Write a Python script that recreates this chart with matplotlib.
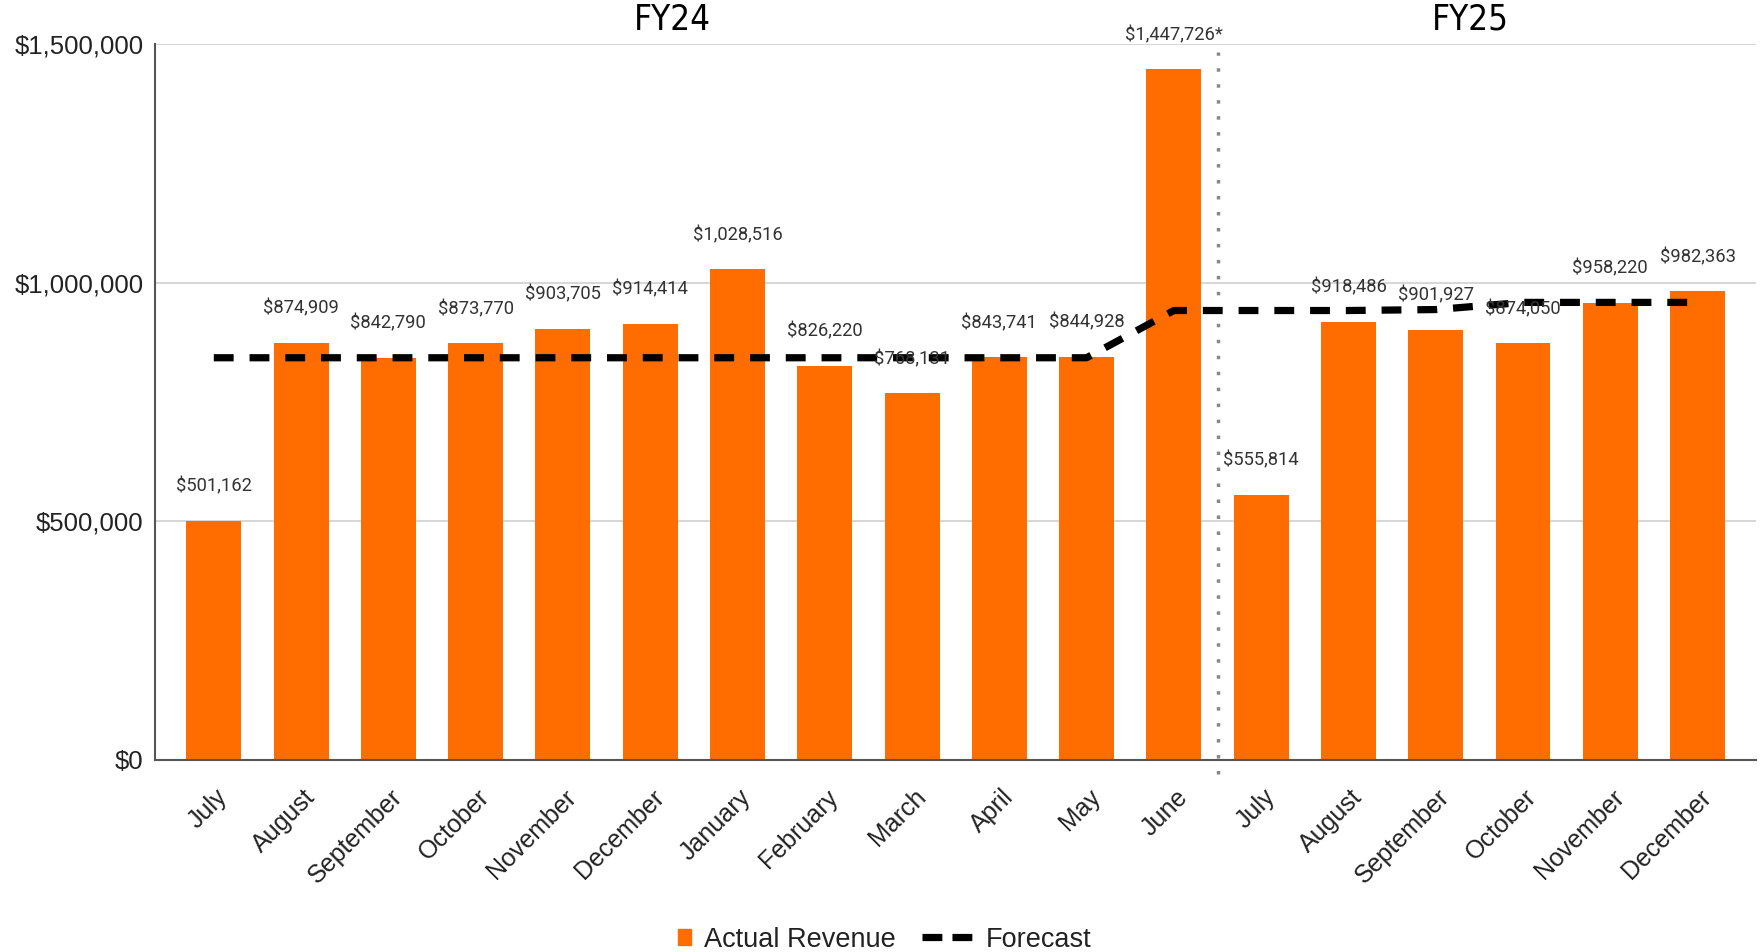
import numpy as np
import matplotlib.pyplot as plt
import matplotlib.transforms as mtransforms
from matplotlib.lines import Line2D
from matplotlib.patches import Patch, Rectangle
from matplotlib.legend_handler import HandlerPatch

# ---------------------

months = ['July', 'August', 'September', 'October', 'November', 'December',
          'January', 'February', 'March', 'April', 'May', 'June',
          'July', 'August', 'September', 'October', 'November', 'December']
actual = [501162, 874909, 842790, 873770, 903705, 914414,
          1028516, 826220, 768131, 843741, 844928, 1447726,
          555814, 918486, 901927, 874050, 958220, 982363]
forecast = [843000, 843000, 843000, 843000, 843000, 843000,
            843000, 843000, 843000, 843000, 843000, 942000,
            942000, 942000, 944000, 959000, 959000, 959000]
label_notes = {11: '*'}
fy_labels = ['FY24', 'FY25']
fy_pos = [5.25, 14.4]
split_pos = 11.5

orange = '#FF6D01'

# ---------------------

def square_at_right(legend, orig_handle, xdescent, ydescent, width, height, fontsize):
    # small square swatch sitting next to the label, like the original legend
    w, h = 9, 12
    return Rectangle((width - xdescent - w, -ydescent + (height - h) / 2), w, h)

fig = plt.figure(figsize=(17.6, 9.52), dpi=100)
ax = fig.add_axes([0.088, 0.2017, 0.91, 0.7518])

x = np.arange(len(months))
ax.bar(x, actual, width=0.63, color=orange, zorder=2)
ax.plot(x, forecast, color='black', linewidth=5.2, dashes=(2.75, 2.2),
        solid_joinstyle='miter', zorder=3)

for i, v in enumerate(actual):
    ax.annotate('${:,}'.format(v) + label_notes.get(i, ''), (i, v),
                xytext=(0, 18), textcoords='offset points',
                ha='center', va='bottom', fontsize=13.2, family='Roboto',
                color='#333333', zorder=4, annotation_clip=False)

ax.set_xlim(-0.675, len(months) - 1 + 0.675)
ax.set_ylim(0, 1500000)
ax.set_yticks([0, 500000, 1000000, 1500000])
ax.set_yticklabels(['${:,}'.format(v) for v in [0, 500000, 1000000, 1500000]],
                   fontsize=18.5, family='Liberation Sans', color='#222222')
ax.set_xticks(x)
ax.set_xticklabels(months, rotation=45, ha='right', va='center',
                   rotation_mode='anchor', fontsize=18,
                   family='Liberation Sans', color='#222222')
ax.tick_params(axis='both', length=0)
ax.tick_params(axis='x', pad=24)
ax.tick_params(axis='y', pad=8)
shift = mtransforms.ScaledTranslation(10 / 100, 0, fig.dpi_scale_trans)
for lbl in ax.get_xticklabels():
    lbl.set_transform(lbl.get_transform() + shift)

ax.grid(axis='y', color='#d0d0d0', linewidth=1.2, zorder=0)
ax.set_axisbelow(True)
for s in ['top', 'right']:
    ax.spines[s].set_visible(False)
ax.spines['left'].set_color('#555555')
ax.spines['bottom'].set_color('#555555')
ax.spines['left'].set_linewidth(1.5)
ax.spines['bottom'].set_linewidth(1.5)

# divider between fiscal years
ax.plot([split_pos, split_pos], [-30000, 1483000], color='#888888',
        linestyle=(0, (1, 3.6)), linewidth=2.5, clip_on=False, zorder=1)

for lab, p in zip(fy_labels, fy_pos):
    ax.text(p, 1.034, lab, transform=ax.get_xaxis_transform(),
            ha='center', va='center', fontsize=25, fontstretch='condensed',
            family='DejaVu Sans', color='black')

bar_handle = Patch(facecolor=orange, edgecolor=orange)
line_handle = Line2D([0], [0], color='black', linewidth=5.2, dashes=(2.75, 1.4))
fig.legend([bar_handle, line_handle], ['Actual Revenue', 'Forecast'], loc='center',
           bbox_to_anchor=(0.492, 0.013), ncol=2, frameon=False,
           prop={'family': 'Liberation Sans', 'size': 19.5},
           handlelength=1.85, handletextpad=0.5, columnspacing=0.95,
           labelcolor='#222222',
           handler_map={Patch: HandlerPatch(patch_func=square_at_right)})

fig.savefig('out.png', dpi=100)
